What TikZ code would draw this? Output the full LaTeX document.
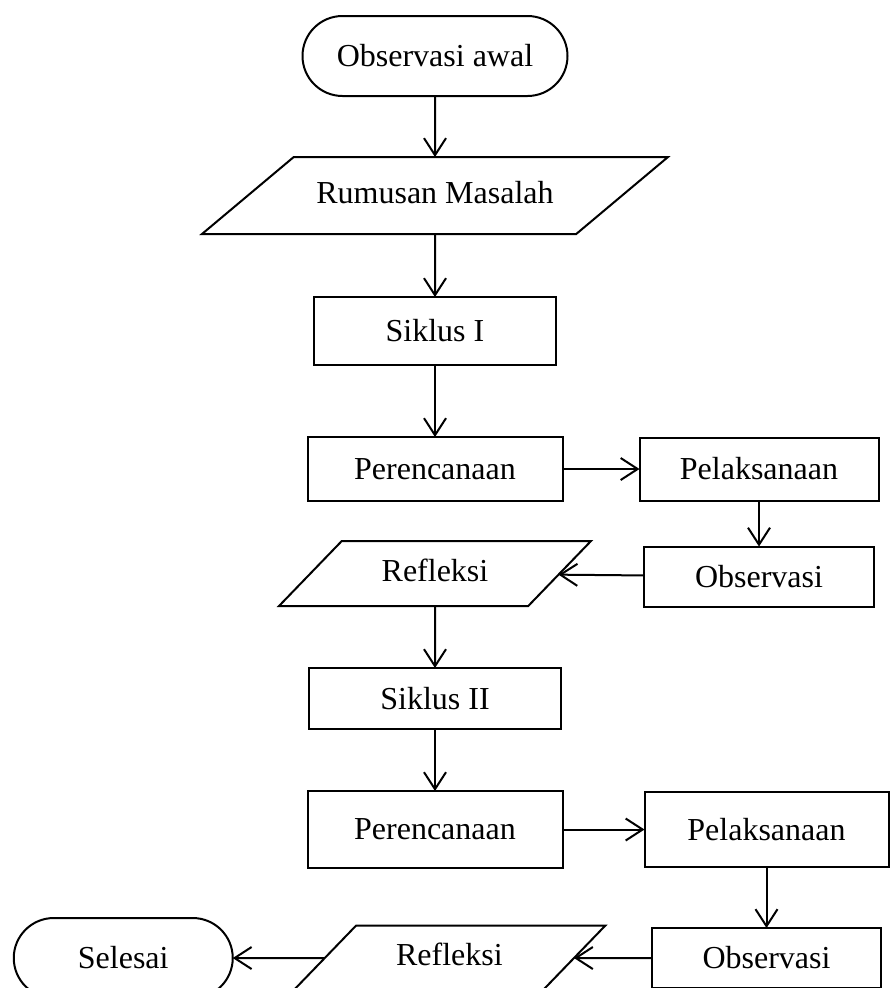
\documentclass[tikz,border=0pt]{standalone}
\usepackage{fontspec}
\setmainfont{Liberation Serif}
\usetikzlibrary{arrows.meta,positioning,shapes.geometric}
\tikzset{
  base/.style={draw=black,line width=2pt,align=center,inner sep=0pt,outer sep=0pt,
    font=\fontsize{32}{38}\selectfont},
  terminal/.style={base,rounded corners=40pt,minimum height=80pt},
  process/.style={base,rectangle},
  dataio/.style={base,trapezium,trapezium stretches body,text height=22pt,text depth=7pt},
  wideio/.style={dataio,inner ysep=24pt,trapezium left angle=40,trapezium right angle=140},
  narrowio/.style={dataio,inner ysep=18pt,trapezium left angle=46,trapezium right angle=134},
  flow/.style={-{Straight Barb[length=17pt,width=22pt]},line width=2pt}
}
\begin{document}
\begin{tikzpicture}
  \useasboundingbox (0,0) rectangle (890pt,-988pt);
  \clip (0,0) rectangle (890pt,-988pt);
  \node[terminal,minimum width=265pt] (awal) at (435pt,-56pt) {Observasi awal};
  \node[wideio,minimum width=466pt,below=61pt of awal] (rumusan) {Rumusan Masalah};
  \node[process,minimum width=242pt,minimum height=68pt,below=63pt of rumusan] (siklus1) {Siklus I};
  \node[process,minimum width=255pt,minimum height=64pt,below=72pt of siklus1] (renc1) {Perencanaan};
  \node[process,minimum width=239pt,minimum height=63pt,right=77pt of renc1] (laks1) {Pelaksanaan};
  \node[process,minimum width=230pt,minimum height=60pt,below=46pt of laks1] (obs1) {Observasi};
  \node[narrowio,minimum width=312pt,below=40pt of renc1] (refl1) {Refleksi};
  \node[process,minimum width=252pt,minimum height=61pt,below=62pt of refl1] (siklus2) {Siklus II};
  \node[process,minimum width=255pt,minimum height=77pt,below=62pt of siklus2] (renc2) {Perencanaan};
  \node[process,minimum width=244pt,minimum height=75pt,right=82pt of renc2] (laks2) {Pelaksanaan};
  \node[process,minimum width=229pt,minimum height=60pt,below=61pt of laks2] (obs2) {Observasi};
  \node[narrowio,minimum width=312pt,left=78pt of obs2] (refl2) {Refleksi};
  \node[terminal,minimum width=219pt,left=92pt of refl2] (selesai) {Selesai};
  \draw[flow] (awal)--(rumusan); \draw[flow] (rumusan)--(siklus1); \draw[flow] (siklus1)--(renc1);
  \draw[flow] (renc1)--(laks1); \draw[flow] (laks1)--(obs1); \draw[flow] (obs1)--(refl1);
  \draw[flow] (refl1)--(siklus2); \draw[flow] (siklus2)--(renc2);
  \draw[flow] (renc2)--(laks2); \draw[flow] (laks2)--(obs2); \draw[flow] (obs2)--(refl2);
  \draw[flow] (refl2)--(selesai);
\end{tikzpicture}
\end{document}
